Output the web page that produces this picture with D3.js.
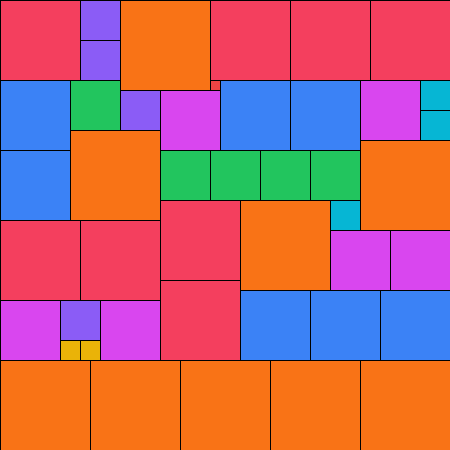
<!DOCTYPE html>
<html>
<head>
<meta charset="utf-8">
<script src="https://cdn.jsdelivr.net/npm/d3@7"></script>
<style>
  html, body { margin: 0; padding: 0; background: #ffffff; }
  svg { display: block; }
</style>
</head>
<body>
<div id="chart"></div>
<script>
// Partridge tiling (n = 9): k squares of side k packed into a 45 x 45 square.
const sideSizes = [9, 8, 7, 6, 5, 4, 3, 2, 1];
const sideColors = ["#f97316", "#f43f5e", "#3b82f6", "#d946ef", "#22c55e", "#8b5cf6", "#06b6d4", "#eab308", "#ef4444"];

// grid positions (units) of each square, grouped by side size
const squareSide = [9,9,9,9,9,9,9,9,9, 8,8,8,8,8,8,8,8, 7,7,7,7,7,7,7, 6,6,6,6,6,6, 5,5,5,5,5, 4,4,4,4, 3,3,3, 2,2, 1];
const squareX    = [12,7,36,24,0,9,18,27,36, 0,21,29,37,0,8,16,16, 0,22,29,0,24,31,38, 16,36,33,39,0,10, 7,16,21,26,31, 8,8,12,6, 42,42,33, 6,8, 21];
const squareY    = [0,13,14,20,36,36,36,36,36, 0,0,0,0,22,22,20,28, 8,8,8,15,29,29,29, 9,8,23,23,30,30, 8,15,15,15,15, 0,4,9,30, 8,11,20, 34,34, 8];
const gridSize = 45;

const W = 450, H = 450;
const scale = d3.scaleLinear().domain([0, gridSize]).range([0, W]);
const color = d3.scaleOrdinal().domain(sideSizes).range(sideColors);

const data = squareSide.map((s, i) => ({ side: s, x: squareX[i], y: squareY[i] }));

const svg = d3.select("#chart").append("svg")
  .attr("width", W).attr("height", H);

svg.selectAll("rect.sq")
  .data(data)
  .join("rect")
  .attr("class", "sq")
  .attr("x", d => scale(d.x) + 0.5)
  .attr("y", d => scale(d.y) + 0.5)
  .attr("width", d => scale(d.side))
  .attr("height", d => scale(d.side))
  .attr("fill", d => color(d.side))
  .attr("stroke", "#000")
  .attr("stroke-width", 1);
</script>
</body>
</html>
